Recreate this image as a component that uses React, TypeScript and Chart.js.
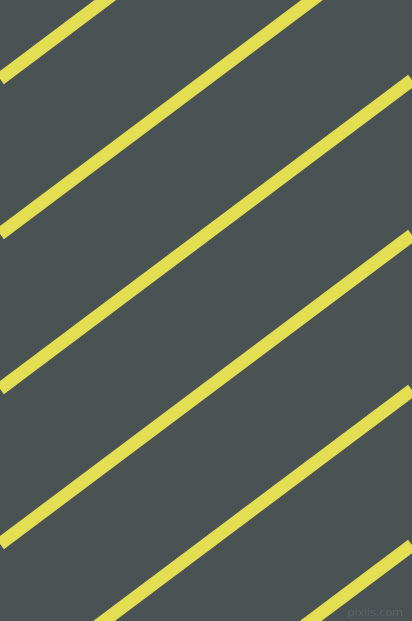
import { useEffect, useRef } from 'react';
import { Chart, registerables } from 'chart.js';

Chart.register(...registerables);

// stripe ends: y at the left edge (x = 0) and the right edge (x = 412)
const stripeLeftY = [79, 234, 389, 544, 699, 854];
const stripeRightY = [-230, -75, 80, 235, 390, 545];
const xLeft = 0;
const xRight = 412;
const watermark = 'pixlis.com';

const BG = '#4b5254';
const STRIPE = '#e3de52';

export default function App() {
  const canvasRef = useRef<HTMLCanvasElement>(null);

  useEffect(() => {
    if (!canvasRef.current) return;

    // background + small watermark in the corner
    const backdrop = {
      id: 'backdrop',
      beforeDraw(chart: Chart) {
        const { ctx, width, height } = chart;
        ctx.save();
        ctx.fillStyle = BG;
        ctx.fillRect(0, 0, width, height);
        ctx.restore();
      },
      afterDraw(chart: Chart) {
        const { ctx, width, height } = chart;
        ctx.save();
        ctx.font = '11px "DejaVu Sans", sans-serif';
        ctx.fillStyle = '#5e656a';
        ctx.textAlign = 'right';
        ctx.textBaseline = 'bottom';
        ctx.fillText(watermark, width - 9, height - 2);
        ctx.restore();
      },
    };

    const chart = new Chart(canvasRef.current, {
      type: 'line',
      data: {
        datasets: stripeLeftY.map((y0, i) => ({
          label: `stripe ${i + 1}`,
          data: [
            { x: xLeft, y: y0 },
            { x: xRight, y: stripeRightY[i] },
          ],
          borderColor: STRIPE,
          borderWidth: 13,
          borderCapStyle: 'butt' as const,
          pointRadius: 0,
          fill: false,
          tension: 0,
        })),
      },
      options: {
        animation: false,
        responsive: false,
        maintainAspectRatio: false,
        layout: { padding: 0 },
        scales: {
          x: { type: 'linear', min: 0, max: 412, display: false },
          y: { type: 'linear', min: 0, max: 621, reverse: true, display: false },
        },
        plugins: {
          legend: { display: false },
          tooltip: { enabled: false },
        },
      },
      plugins: [backdrop],
    });

    return () => {
      chart.destroy();
    };
  }, []);

  return (
    <div style={{ position: 'fixed', left: 0, top: 0, width: 412, height: 621, background: BG }}>
      <canvas ref={canvasRef} width={412} height={621} style={{ display: 'block' }} />
    </div>
  );
}
